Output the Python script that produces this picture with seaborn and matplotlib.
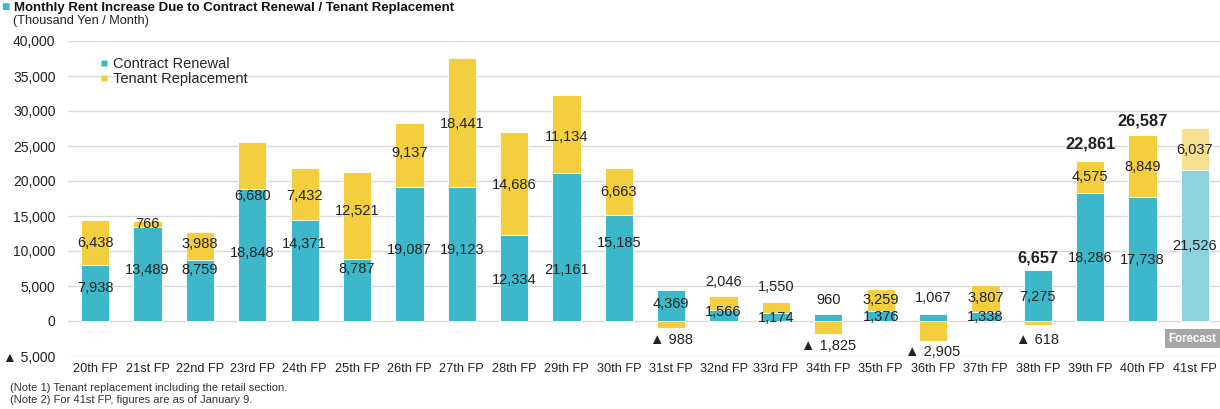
import numpy as np
import pandas as pd
import matplotlib
matplotlib.use("Agg")
import matplotlib.pyplot as plt
import seaborn as sns
from matplotlib.lines import Line2D

# ---------------- data ----------------
periods = ["20th FP", "21st FP", "22nd FP", "23rd FP", "24th FP", "25th FP", "26th FP",
           "27th FP", "28th FP", "29th FP", "30th FP", "31st FP", "32nd FP", "33rd FP",
           "34th FP", "35th FP", "36th FP", "37th FP", "38th FP", "39th FP", "40th FP",
           "41st FP"]
renewal = [7938, 13489, 8759, 18848, 14371, 8787, 19087, 19123, 12334, 21161, 15185,
           4369, 1566, 1174, 960, 1376, 1067, 1338, 7275, 18286, 17738, 21526]
replacement = [6438, 766, 3988, 6680, 7432, 12521, 9137, 18441, 14686, 11134, 6663,
               -988, 2046, 1550, -1825, 3259, -2905, 3807, -618, 4575, 8849, 6037]
totals_shown = {"38th FP": 6657, "39th FP": 22861, "40th FP": 26587}
# label anchor heights (thousand yen)
renewal_label_y = [4700, 7300, 7300, 9700, 11000, 7400, 10100, 10100, 5900, 7300, 11100,
                   2400, 1300, 450, 3000, 600, 3300, 600, 3400, 9000, 8700, 10700]
replacement_label_y = [11100, 13850, 11000, 17850, 17850, 15700, 24000, 28150, 19450, 26300,
                       18450, -2700, 5550, 4850, -3550, 3000, -4400, 3300, -2700, 20550,
                       22000, 24450]
total_label_y = {"38th FP": 9000, "39th FP": 25300, "40th FP": 28600}
yticks = [-5000, 0, 5000, 10000, 15000, 20000, 25000, 30000, 35000, 40000]
ytick_labels = ["▲ 5,000", "0", "5,000", "10,000", "15,000", "20,000", "25,000",
                "30,000", "35,000", "40,000"]

TEAL = "#3DB8CA"
YELLOW = "#F3CF40"
TEAL_L = "#8DD3DE"
YELLOW_L = "#F6E08F"

df = pd.DataFrame({"period": periods, "renewal": renewal, "replacement": replacement})
df["yellow_top"] = np.where(df["replacement"] > 0, df["renewal"] + df["replacement"],
                            df["replacement"])

sns.set_theme(style="white")
plt.rcParams["font.family"] = ["Liberation Sans", "DejaVu Sans"]

fig = plt.figure(figsize=(12.2, 4.09), dpi=100)
ax = fig.add_axes([68 / 1220, 1 - 356 / 409, 1 - 68 / 1220, (356 - 41) / 409])

n = len(periods)
teal_pal = [TEAL] * (n - 1) + [TEAL_L]
yel_pal = [YELLOW] * (n - 1) + [YELLOW_L]

sns.barplot(data=df, x="period", y="yellow_top", hue="period", palette=yel_pal,
            legend=False, width=0.54, ax=ax, saturation=1, edgecolor="white",
            linewidth=0.6, zorder=3)
sns.barplot(data=df, x="period", y="renewal", hue="period", palette=teal_pal,
            legend=False, width=0.54, ax=ax, saturation=1, edgecolor="white",
            linewidth=0.6, zorder=4)

ax.set_ylim(-5000, 40000)
ax.set_xlim(-0.52, n - 1 + 0.48)
ax.set_yticks(yticks)
ax.set_yticklabels(ytick_labels, fontsize=10, color="#222222")
ax.tick_params(axis="x", labelsize=9.2, colors="#222222", length=0, pad=5)
ax.tick_params(axis="y", length=0, pad=9)
ax.set_xlabel("")
ax.set_ylabel("")
for s in ax.spines.values():
    s.set_visible(False)
for yv in yticks:
    ax.axhline(yv, color="#D9D9D9", lw=1.0, zorder=1)

lab_fs = 10.5
for i, p in enumerate(periods):
    ax.text(i, renewal_label_y[i], f"{renewal[i]:,}", ha="center", va="center",
            fontsize=lab_fs, color="#222222", zorder=6)
    rv = replacement[i]
    txt = f"{rv:,}" if rv > 0 else f"▲ {abs(rv):,}"
    ax.text(i, replacement_label_y[i], txt, ha="center", va="center",
            fontsize=lab_fs, color="#222222", zorder=6)
    if p in totals_shown:
        ax.text(i, total_label_y[p], f"{totals_shown[p]:,}", ha="center", va="center",
                fontsize=11.8, fontweight="bold", color="#222222", zorder=6)

ax.text(n - 1 - 0.05, -2500, "Forecast", ha="center", va="center", fontsize=8.3,
        color="white", fontweight="bold", zorder=7,
        bbox=dict(boxstyle="square,pad=0.3", fc="#A6A6A6", ec="none"))

handles = [Line2D([0], [0], marker="s", color="none", markerfacecolor=TEAL,
                  markeredgecolor="none", markersize=5, label="Contract Renewal"),
           Line2D([0], [0], marker="s", color="none", markerfacecolor=YELLOW,
                  markeredgecolor="none", markersize=5, label="Tenant Replacement")]
leg = ax.legend(handles=handles, loc="upper left", bbox_to_anchor=(0.019, 0.982),
                frameon=False, fontsize=10.5, handlelength=0.6, handletextpad=0.3,
                labelspacing=0.05, borderpad=0.2)

# title
fig.text(1 / 1220, 1 - 11 / 409, "■", fontsize=10, color=TEAL, va="baseline", ha="left")
fig.text(14 / 1220, 1 - 11 / 409,
         "Monthly Rent Increase Due to Contract Renewal / Tenant Replacement",
         fontsize=9.5, fontweight="bold", color="#111111", va="baseline", ha="left")
fig.text(13 / 1220, 1 - 21 / 409, "(Thousand Yen / Month)", fontsize=9.2,
         color="#222222", va="center", ha="left")
fig.text(10 / 1220, 1 - 388 / 409, "(Note 1) Tenant replacement including the retail section.",
         fontsize=8, color="#333333", va="center", ha="left")
fig.text(10 / 1220, 1 - 400 / 409, "(Note 2) For 41st FP, figures are as of January 9.",
         fontsize=8, color="#333333", va="center", ha="left")

fig.savefig("out.png", dpi=100)
